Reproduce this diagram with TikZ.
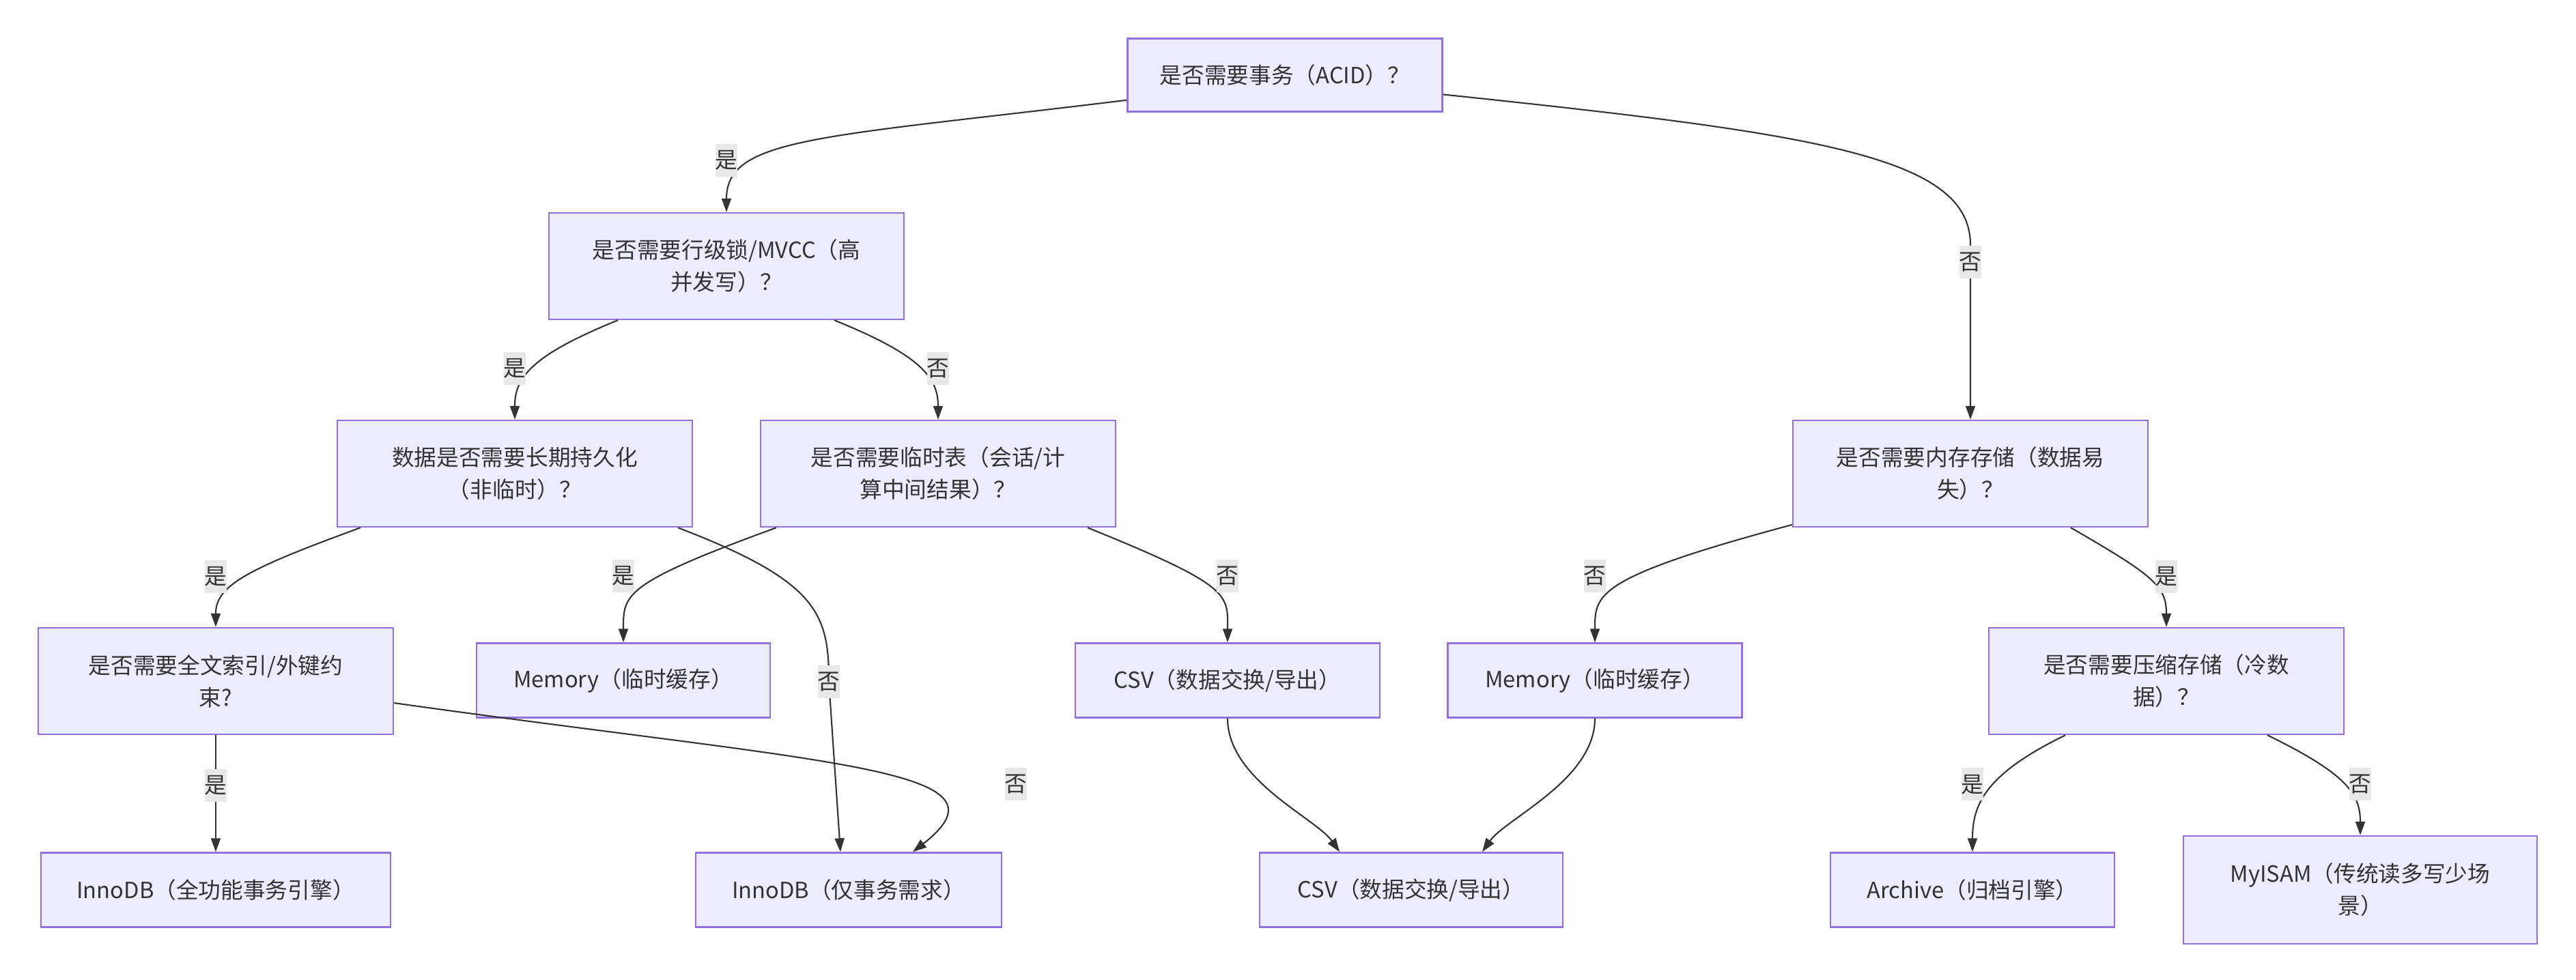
\documentclass[tikz,border=0pt]{standalone}
\usepackage{fontspec}
\setmainfont{Noto Sans CJK SC}
\usepackage{tikz}
\usetikzlibrary{arrows.meta}
\definecolor{boxfill}{HTML}{ECECFF}
\definecolor{boxline}{HTML}{9370DB}
\definecolor{ink}{HTML}{333333}
\definecolor{lblfill}{HTML}{E8E8E8}

\begin{document}
\begin{tikzpicture}[
  font=\fontsize{9.3pt}{13.4pt}\selectfont,
  box/.style={draw=boxline, fill=boxfill, line width=0.7pt, text=ink, align=center, inner sep=0pt},
  question/.style={box, minimum width=5.2cm, minimum height=1.56cm},
  engine/.style={box, minimum height=1.09cm},
  flow/.style={draw=ink, line width=0.6pt, -{Triangle[length=2mm,width=1.4mm]}},
  answer/.style={fill=lblfill, text=ink, inner sep=0pt, minimum width=0.32cm, minimum height=0.48cm}
]
\useasboundingbox (0,0) rectangle (37.73,-14.36) ;

\node[box, minimum width=4.61cm, minimum height=1.07cm] at (18.82,-1.10) (acid) {是否需要事务（ACID）？} ;
\node[question] at (10.64,-3.90) (rowlock) {是否需要行级锁/MVCC（高\\并发写）？} ;
\node[question] at (7.54,-6.94) (durable) {数据是否需要长期持久化\\（非临时）？} ;
\node[question] at (13.74,-6.94) (temptab) {是否需要临时表（会话/计\\算中间结果）？} ;
\node[question] at (28.86,-6.94) (inmem) {是否需要内存存储（数据易\\失）？} ;
\node[question] at (3.16,-9.98) (fulltext) {是否需要全文索引/外键约\\束?} ;
\node[question] at (31.73,-9.98) (compress) {是否需要压缩存储（冷数\\据）？} ;

\node[engine, minimum width=4.30cm] at (9.13,-9.97) (cache1) {Memory（临时缓存）} ;
\node[engine, minimum width=4.46cm] at (17.98,-9.97) (export1) {CSV（数据交换/导出）} ;
\node[engine, minimum width=4.31cm] at (23.36,-9.97) (cache2) {Memory（临时缓存）} ;
\node[engine, minimum width=5.12cm] at (3.16,-13.04) (fullinno) {InnoDB（全功能事务引擎）} ;
\node[engine, minimum width=4.48cm] at (12.43,-13.04) (txonly) {InnoDB（仅事务需求）} ;
\node[engine, minimum width=4.44cm] at (20.67,-13.04) (export2) {CSV（数据交换/导出）} ;
\node[engine, minimum width=4.16cm] at (28.89,-13.04) (archive) {Archive（归档引擎）} ;
\node[engine, minimum width=5.18cm, minimum height=1.58cm] at (34.57,-13.04) (myisam) {MyISAM（传统读多写少场\\景）} ;

\draw[flow] (acid.189) to[out=187, in=90, out distance=4.5cm, in distance=1.1cm] (rowlock.north) node[answer] (a1) at ([yshift=7.6mm]rowlock.north) {是} ;
\draw[flow] (acid.-7) to[out=-6, in=90, out distance=5.5cm, in distance=1.3cm] ([yshift=2.56cm]inmem.north) -- node[answer, pos=0.1] (a2) {否} (inmem.north) ;
\draw[flow] ([xshift=-1.59cm]rowlock.south) to[out=202, in=90, out distance=1.4cm, in distance=0.6cm] (durable.north) node[answer] (a3) at ([yshift=7.5mm]durable.north) {是} ;
\draw[flow] ([xshift=1.58cm]rowlock.south) to[out=-22, in=90, out distance=1.4cm, in distance=0.6cm] (temptab.north) node[answer] (a4) at ([yshift=7.5mm]temptab.north) {否} ;
\draw[flow] ([xshift=-2.26cm]durable.south) to[out=200, in=90, out distance=1.8cm, in distance=0.6cm] (fulltext.north) node[answer] (a5) at ([yshift=7.4mm]fulltext.north) {是} ;
\draw[flow] ([xshift=2.39cm]durable.south) to[out=-21, in=90, out distance=2.2cm, in distance=1cm] ([xshift=-0.29cm, yshift=2.49cm]txonly.north) node[answer] (a6) {否} -- ([xshift=-0.12cm]txonly.north) ;
\draw[flow] ([xshift=-2.37cm]temptab.south) to[out=200, in=90, out distance=2.4cm, in distance=0.7cm] (cache1.north) node[answer] (a7) at ([yshift=9.7mm]cache1.north) {是} ;
\draw[flow] ([xshift=2.19cm]temptab.south) to[out=-22, in=90, out distance=2.3cm, in distance=0.7cm] (export1.north) node[answer] (a8) at ([yshift=9.7mm]export1.north) {否} ;
\draw[flow] (fulltext.south) -- node[answer, pos=0.43] (a9) {是} (fullinno.north) ;
\draw[flow] (fulltext.-7) to[out=-8, in=38, out distance=6.5cm, in distance=2cm] ([xshift=0.94cm]txonly.north) node[answer] (a10) at ([xshift=2.45cm, yshift=0.99cm]txonly.north) {否} ;
\draw[flow] (export1.south) to[out=-90, in=125, out distance=0.9cm, in distance=0.6cm] ([xshift=-1.05cm]export2.north) ;
\draw[flow] (cache2.south) to[out=-90, in=55, out distance=0.9cm, in distance=0.6cm] ([xshift=1.04cm]export2.north) ;
\draw[flow] (inmem.196) to[out=195, in=90, out distance=3cm, in distance=0.7cm] (cache2.north) node[answer] (a13) at ([yshift=9.7mm]cache2.north) {否} ;
\draw[flow] ([xshift=1.47cm]inmem.south) to[out=-30, in=90, out distance=1.4cm, in distance=0.6cm] (compress.north) node[answer] (a14) at ([yshift=7.4mm]compress.north) {是} ;
\draw[flow] ([xshift=-1.48cm]compress.south) to[out=206, in=90, out distance=1.3cm, in distance=0.7cm] (archive.north) node[answer] (a15) at ([yshift=9.9mm]archive.north) {是} ;
\draw[flow] ([xshift=1.48cm]compress.south) to[out=-26, in=90, out distance=1.3cm, in distance=0.6cm] (myisam.north) node[answer] (a16) at ([yshift=7.5mm]myisam.north) {否} ;
\end{tikzpicture}
\end{document}
